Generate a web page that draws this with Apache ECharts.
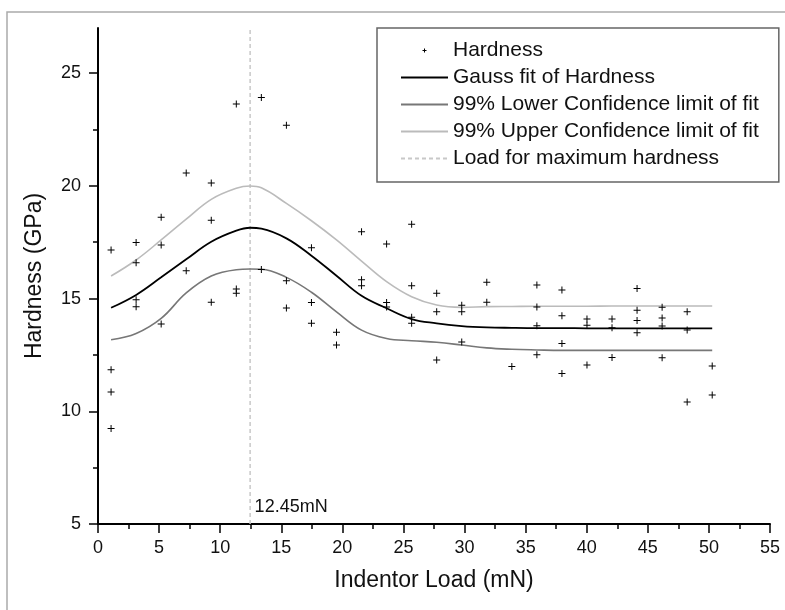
<!DOCTYPE html>
<html>
<head>
<meta charset="utf-8">
<script src="https://cdn.jsdelivr.net/npm/echarts@6/dist/echarts.min.js"></script>
<style>
  html, body { margin: 0; padding: 0; background: #fff; }
</style>
</head>
<body>
<div id="chart" style="width: 785px; height: 610px;"></div>
<script>
// measured hardness points, one group per load step
const hardnessX = [
  1.07, 1.07, 1.07, 1.07,
  3.12, 3.12, 3.12, 3.12,
  5.17, 5.17, 5.17,
  7.22, 7.22,
  9.27, 9.27, 9.27,
  11.32, 11.32, 11.32,
  13.37, 13.37,
  15.42, 15.42, 15.42,
  17.47, 17.47, 17.47,
  19.52, 19.52,
  21.57, 21.57, 21.57,
  23.62, 23.62, 23.62,
  25.67, 25.67, 25.67, 25.67,
  27.72, 27.72, 27.72,
  29.77, 29.77, 29.77,
  31.82, 31.82,
  33.87,
  35.92, 35.92, 35.92, 35.92,
  37.97, 37.97, 37.97, 37.97,
  40.02, 40.02, 40.02,
  42.07, 42.07, 42.07,
  44.12, 44.12, 44.12, 44.12,
  46.17, 46.17, 46.17, 46.17,
  48.22, 48.22, 48.22,
  50.27, 50.27
];
const hardnessY = [
  17.15, 11.84, 10.85, 9.24,
  17.49, 16.59, 14.95, 14.64,
  18.61, 17.37, 13.87,
  20.57, 16.23,
  20.12, 18.47, 14.84,
  23.63, 15.42, 15.23,
  23.92, 16.29,
  22.69, 15.79, 14.58,
  17.25, 14.83, 13.90,
  13.50, 12.94,
  17.96, 15.83, 15.57,
  17.42, 14.83, 14.63,
  18.29, 15.57, 14.17, 13.90,
  15.23, 14.41, 12.27,
  14.70, 14.41, 13.07,
  15.72, 14.84,
  11.99,
  15.60, 14.62, 13.79, 12.51,
  15.38, 14.24, 13.01, 11.68,
  14.09, 13.82, 12.05,
  14.09, 13.70, 12.39,
  15.45, 14.48, 14.03, 13.48,
  14.61, 14.14, 13.78, 12.37,
  14.41, 13.60, 10.41,
  12.01, 10.72
];

// fit curve and 99% confidence band
const curveX = [1.07, 3.12, 5.17, 7.22, 9.27, 11.32, 12.45, 13.37, 15.42, 17.47, 19.52, 21.57, 23.62,
  25.67, 27.72, 29.77, 31.82, 33.87, 35.92, 37.97, 40.02, 42.07, 44.12, 46.17, 48.22, 50.27];
const fitY = [14.59, 15.16, 15.94, 16.74, 17.52, 18.01, 18.14, 18.10, 17.67, 16.90, 16.01, 15.12, 14.57,
  14.09, 13.90, 13.78, 13.72, 13.70, 13.69, 13.69, 13.68, 13.68, 13.68, 13.68, 13.68, 13.68];
const lowerY = [13.17, 13.45, 14.12, 15.25, 16.00, 16.28, 16.31, 16.30, 15.94, 15.28, 14.41, 13.60, 13.23,
  13.13, 13.06, 12.94, 12.81, 12.75, 12.72, 12.70, 12.70, 12.70, 12.70, 12.70, 12.70, 12.70];
const upperY = [16.00, 16.71, 17.60, 18.52, 19.40, 19.89, 19.99, 19.91, 19.22, 18.45, 17.60, 16.66, 15.75,
  15.08, 14.71, 14.61, 14.64, 14.65, 14.66, 14.66, 14.66, 14.67, 14.67, 14.67, 14.67, 14.67];

// load for maximum hardness
const peakLoad = 12.45;
const peakLabel = '12.45mN';

const yMajorTicks = [5, 10, 15, 20, 25];
const yMinorTicks = [7.5, 12.5, 17.5, 22.5];

const seriesNames = [
  'Hardness',
  'Gauss fit of Hardness',
  '99% Lower Confidence limit of fit',
  '99% Upper Confidence limit of fit',
  'Load for maximum hardness'
];

const FONT = "'Liberation Sans', Arial, sans-serif";

const zip = (xs, ys) => xs.map((x, i) => [x, ys[i]]);

const plusSymbol = 'path://M3,0h1v3h3v1h-3v3h-1v-3h-3v-1h3z';
// small plus centred in the legend icon box
const plusLegendIcon = 'path://M0,0h0.01v0.01h-0.01zM46.99,13.99h0.01v0.01h-0.01zM23,5h1v1.5h1.5v1h-1.5v1.5h-1v-1.5h-1.5v-1h1.5z';

// line series: no marker in the legend either
const noMarker = { color: 'transparent', opacity: 0 };

const chart = echarts.init(document.getElementById('chart'), null, { renderer: 'canvas' });

const option = {
  backgroundColor: '#fff',
  animation: false,
  textStyle: { fontFamily: FONT },
  graphic: [{
    type: 'rect',
    shape: { x: 7, y: 12, width: 820, height: 640 },
    style: { fill: 'none', stroke: '#aaa', lineWidth: 1.5 },
    silent: true
  }],
  grid: { left: 98, right: 15, top: 28, bottom: 86 },
  legend: {
    orient: 'vertical',
    left: 377,
    top: 28,
    padding: [12, 20, 13, 23],
    itemWidth: 47,
    itemHeight: 14,
    itemGap: 6,
    borderColor: '#666',
    borderWidth: 1.5,
    textStyle: { fontSize: 21, lineHeight: 20, color: '#111', fontFamily: FONT },
    data: [
      { name: seriesNames[0], icon: plusLegendIcon },
      seriesNames[1], seriesNames[2], seriesNames[3], seriesNames[4]
    ]
  },
  xAxis: {
    type: 'value',
    min: 0,
    max: 55,
    interval: 5,
    name: 'Indentor Load (mN)',
    nameLocation: 'middle',
    nameGap: 45,
    nameTextStyle: { fontSize: 23, color: '#111', fontFamily: FONT },
    axisLine: { lineStyle: { color: '#000', width: 2 } },
    axisTick: { length: 9, lineStyle: { color: '#000', width: 1.5 } },
    minorTick: { show: true, splitNumber: 2, length: 5, lineStyle: { color: '#000', width: 1.5 } },
    axisLabel: { fontSize: 18, color: '#111', margin: 15, fontFamily: FONT },
    splitLine: { show: false }
  },
  yAxis: [{
    type: 'value',
    min: 5,
    max: 27,
    interval: 5,
    name: 'Hardness (GPa)',
    nameLocation: 'middle',
    nameGap: 52,
    nameTextStyle: { fontSize: 23, color: '#111', fontFamily: FONT },
    axisLine: { show: true, lineStyle: { color: '#000', width: 2 } },
    axisTick: { show: true, length: 9, customValues: yMajorTicks, lineStyle: { color: '#000', width: 1.5 } },
    axisLabel: { fontSize: 18, color: '#111', margin: 17, customValues: yMajorTicks, fontFamily: FONT },
    splitLine: { show: false }
  }, {
    // minor ticks only
    type: 'value',
    min: 5,
    max: 27,
    position: 'left',
    axisLine: { show: false },
    axisTick: { show: true, length: 5, customValues: yMinorTicks, lineStyle: { color: '#000', width: 1.5 } },
    axisLabel: { show: false },
    splitLine: { show: false }
  }],
  series: [
    {
      name: seriesNames[4],
      type: 'line',
      symbol: 'none',
      data: [[peakLoad, 5], [peakLoad, 27]],
      itemStyle: noMarker,
      lineStyle: { color: '#c8c8c8', width: 1.5, type: [4, 3] },
      z: 1
    },
    {
      name: 'peakLabel',
      type: 'scatter',
      data: [[peakLoad, 5]],
      symbolSize: 1,
      itemStyle: { color: 'transparent', opacity: 1 },
      label: {
        show: true,
        position: [5, -25],
        formatter: peakLabel,
        fontSize: 18,
        color: '#111',
        fontFamily: FONT
      },
      silent: true
    },
    {
      name: seriesNames[3],
      type: 'line',
      symbol: 'none',
      smooth: 0.4,
      data: zip(curveX, upperY),
      itemStyle: noMarker,
      lineStyle: { color: '#bbbbbb', width: 1.6 },
      z: 2
    },
    {
      name: seriesNames[2],
      type: 'line',
      symbol: 'none',
      smooth: 0.4,
      data: zip(curveX, lowerY),
      itemStyle: noMarker,
      lineStyle: { color: '#777777', width: 1.6 },
      z: 2
    },
    {
      name: seriesNames[1],
      type: 'line',
      symbol: 'none',
      smooth: 0.4,
      data: zip(curveX, fitY),
      itemStyle: noMarker,
      lineStyle: { color: '#000', width: 1.8 },
      z: 3
    },
    {
      name: seriesNames[0],
      type: 'scatter',
      symbol: plusSymbol,
      symbolSize: 7,
      data: zip(hardnessX, hardnessY),
      itemStyle: { color: '#000', opacity: 1 },
      z: 4
    }
  ]
};

chart.setOption(option);
</script>
</body>
</html>
